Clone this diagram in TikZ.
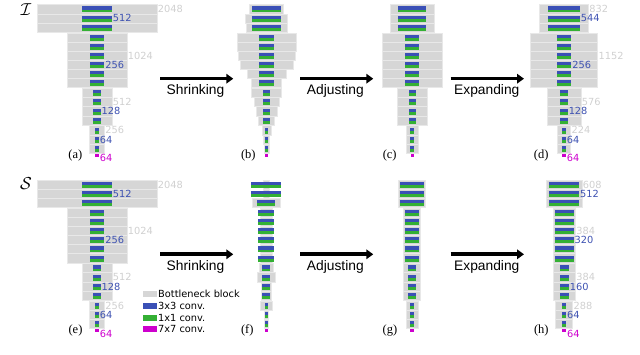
\documentclass[tikz,border=0pt]{standalone}
\usepackage{fontspec}
\setmainfont{Liberation Serif}
\newfontfamily\dvs{DejaVu Sans}
\newfontfamily\lsans{Liberation Sans}
\usetikzlibrary{arrows.meta}
\definecolor{blkgray}{RGB}{214,214,214}
\definecolor{rowsep}{RGB}{232,232,232}
\definecolor{cblue}{RGB}{58,80,182}
\definecolor{cgreen}{RGB}{52,176,52}
\definecolor{cmag}{RGB}{205,0,205}
\definecolor{labgray}{RGB}{208,208,208}
\definecolor{labblue}{RGB}{62,82,178}
\newcommand\SC{0.0585}
\newcommand\RH{9.15}
\newcommand\SG{0.7}
\newcommand\rowtop[3]{\pgfmathsetmacro#1{#2+#3*\RH+\SG*((#3>2)+(#3>8)+(#3>12))}}
\newcommand\blk[4]{%
  \filldraw[fill=blkgray,draw=rowsep,line width=0.6pt] ({#1-#3*\SC/2},{#2}) rectangle ({#1+#3*\SC/2},{#2+\RH});
  \fill[cblue] ({#1-#4*\SC/2},{#2+1.8}) rectangle ({#1+#4*\SC/2},{#2+4.9});
  \fill[cgreen] ({#1-#4*\SC/2},{#2+4.9}) rectangle ({#1+#4*\SC/2},{#2+7.8});
}
\newcommand\panel[4]{%
  \foreach \g/\b [count=\i from 0] in {#3}{%
    \rowtop\yt{#2}{\i}%
    \blk{#1}{\yt}{\g}{\b}%
  }%
  \pgfmathsetmacro\ym{#2+16*\RH+3*\SG+0.4}%
  \fill[cmag] ({#1-#4*\SC/2},\ym) rectangle ({#1+#4*\SC/2},{\ym+3.2});
}
\newcommand\lab[7]{%
  \rowtop\yl{#3}{#4}%
  \node[#7] (#1) at ({#2+#5*\SC/2+0.8},{\yl+\RH/2}) {#6};
}
\newcommand\maglab[3]{%
  \pgfmathsetmacro\yml{#3+16*\RH+3*\SG+0.4+4.7}%
  \node[mlab] (#1) at ({#2+64*\SC/2+0.8},\yml) {64};
}
\tikzset{
  glab/.style={anchor=west,inner sep=0pt,text=labgray,font=\dvs\fontsize{9.8}{10}\selectfont},
  blab/.style={anchor=west,inner sep=0pt,text=labblue,font=\dvs\fontsize{9.8}{10}\selectfont},
  mlab/.style={anchor=west,inner sep=0pt,text=cmag,font=\dvs\fontsize{9.8}{10}\selectfont},
  plab/.style={inner sep=0pt,font=\fontsize{12.5}{14}\selectfont},
  optext/.style={anchor=base,inner sep=0pt,font=\lsans\fontsize{13.8}{16}\selectfont},
  bigarrow/.style={line width=3.6pt,-{Triangle[width=9.5pt,length=7pt]}},
  legtext/.style={anchor=west,inner sep=0pt,font=\dvs\fontsize{9.8}{10}\selectfont},
}
\begin{document}
\begin{tikzpicture}[x=1pt,y=-1pt]
\useasboundingbox (0,0) rectangle (640,355);
% ---- top row ----
\node (calI) at (26,10) {\fontsize{17}{20}\selectfont$\mathcal{I}$};
\panel{97}{4.7}{2048/512,2048/512,2048/512,1024/256,1024/256,1024/256,1024/256,1024/256,1024/256,512/128,512/128,512/128,512/128,256/64,256/64,256/64}{64}
\panel{266.5}{4.7}{586/485,718/485,696/490,1008/245,1008/245,980/245,900/250,672/250,513/250,508/131,432/131,359/131,268/131,159/51,103/51,80/51}{52}
\panel{412.2}{4.7}{740/484,740/484,740/484,1014/245,1014/245,1014/245,1014/245,1014/245,1014/245,513/125,513/125,513/125,513/125,217/63,217/63,217/63}{55}
\panel{564}{4.7}{832/544,832/544,832/544,1152/256,1152/256,1152/256,1152/256,1152/256,1152/256,576/128,576/128,576/128,576/128,224/64,224/64,224/64}{64}
% labels (a)
\lab{a1}{97}{4.7}{0}{2048}{2048}{glab}
\lab{a2}{97}{4.7}{1}{512}{512}{blab}
\lab{a3}{97}{4.7}{5}{1024}{1024}{glab}
\lab{a4}{97}{4.7}{6}{256}{256}{blab}
\lab{a5}{97}{4.7}{10}{512}{512}{glab}
\lab{a6}{97}{4.7}{11}{128}{128}{blab}
\lab{a7}{97}{4.7}{13}{256}{256}{glab}
\lab{a8}{97}{4.7}{14}{64}{64}{blab}
\maglab{a9}{97}{4.7}
% labels (d)
\lab{d1}{564}{4.7}{0}{832}{832}{glab}
\lab{d2}{564}{4.7}{1}{544}{544}{blab}
\lab{d3}{564}{4.7}{5}{1152}{1152}{glab}
\lab{d4}{564}{4.7}{6}{256}{256}{blab}
\lab{d5}{564}{4.7}{10}{576}{576}{glab}
\lab{d6}{564}{4.7}{11}{128}{128}{blab}
\lab{d7}{564}{4.7}{13}{224}{224}{glab}
\lab{d8}{564}{4.7}{14}{64}{64}{blab}
\maglab{d9}{564}{4.7}
% panel captions
\node[plab] (pa) at (75.4,155.7) {(a)};
\node[plab] (pb) at (248.3,155.7) {(b)};
\node[plab] (pc) at (389.7,155.7) {(c)};
\node[plab] (pd) at (541.2,155.7) {(d)};
% arrows top
\coordinate (t1s) at (160,78.7); \coordinate (t1e) at (233.3,78.7);
\coordinate (t2s) at (300,78.7); \coordinate (t2e) at (373.3,78.7);
\coordinate (t3s) at (450.7,78.7); \coordinate (t3e) at (524,78.7);
\draw[bigarrow] (t1s) -- (t1e);
\draw[bigarrow] (t2s) -- (t2e);
\draw[bigarrow] (t3s) -- (t3e);
\node[optext] (tt1) at (195.5,95) {Shrinking};
\node[optext] (tt2) at (335.3,95) {Adjusting};
\node[optext] (tt3) at (486.8,95) {Expanding};
% ---- bottom row ----
\node (calS) at (26,184) {\fontsize{17}{20}\selectfont$\mathcal{S}$};
\panel{97}{179.9}{2048/512,2048/512,2048/512,1024/256,1024/256,1024/256,1024/256,1024/256,1024/256,512/128,512/128,512/128,512/128,256/64,256/64,256/64}{64}
\panel{266.3}{179.9}{108/513,108/513,467/308,210/268,210/268,210/268,210/268,210/268,210/268,234/131,296/131,177/131,177/131,217/57,80/57,80/57}{52}
\panel{412}{179.9}{467/410,467/410,467/410,296/256,296/256,296/256,296/256,296/256,296/256,296/125,296/125,296/125,296/125,210/63,210/63,210/63}{55}
\panel{564.2}{179.9}{608/512,608/512,608/512,384/320,384/320,384/320,384/320,384/320,384/320,384/160,384/160,384/160,384/160,288/64,288/64,288/64}{64}
% labels (e)
\lab{e1}{97}{179.9}{0}{2048}{2048}{glab}
\lab{e2}{97}{179.9}{1}{512}{512}{blab}
\lab{e3}{97}{179.9}{5}{1024}{1024}{glab}
\lab{e4}{97}{179.9}{6}{256}{256}{blab}
\lab{e5}{97}{179.9}{10}{512}{512}{glab}
\lab{e6}{97}{179.9}{11}{128}{128}{blab}
\lab{e7}{97}{179.9}{13}{256}{256}{glab}
\lab{e8}{97}{179.9}{14}{64}{64}{blab}
\maglab{e9}{97}{179.9}
% labels (h)
\lab{h1}{564.2}{179.9}{0}{608}{608}{glab}
\lab{h2}{564.2}{179.9}{1}{512}{512}{blab}
\lab{h3}{564.2}{179.9}{5}{384}{384}{glab}
\lab{h4}{564.2}{179.9}{6}{320}{320}{blab}
\lab{h5}{564.2}{179.9}{10}{384}{384}{glab}
\lab{h6}{564.2}{179.9}{11}{160}{160}{blab}
\lab{h7}{564.2}{179.9}{13}{288}{288}{glab}
\lab{h8}{564.2}{179.9}{14}{64}{64}{blab}
\maglab{h9}{564.2}{179.9}
\node[plab] (pe) at (75.5,330.7) {(e)};
\node[plab] (pf) at (247.3,330.7) {(f)};
\node[plab] (pg) at (390,330.7) {(g)};
\node[plab] (ph) at (541.3,330.7) {(h)};
% arrows bottom
\coordinate (b1s) at (160,254.3); \coordinate (b1e) at (233.3,254.3);
\coordinate (b2s) at (300,254.3); \coordinate (b2e) at (373.3,254.3);
\coordinate (b3s) at (450.7,254.3); \coordinate (b3e) at (524,254.3);
\draw[bigarrow] (b1s) -- (b1e);
\draw[bigarrow] (b2s) -- (b2e);
\draw[bigarrow] (b3s) -- (b3e);
\node[optext] (bt1) at (195.5,270.6) {Shrinking};
\node[optext] (bt2) at (335.3,270.6) {Adjusting};
\node[optext] (bt3) at (486.8,270.6) {Expanding};
% legend
\fill[blkgray] (143.3,291.3) rectangle (156.7,297.3);
\fill[cblue] (143.3,303) rectangle (156.7,309);
\fill[cgreen] (143.3,314.7) rectangle (156.7,320.7);
\fill[cmag] (143.3,326.4) rectangle (156.7,332.4);
\node[legtext] (lg1) at (158,294.3) {Bottleneck block};
\node[legtext] (lg2) at (158,306) {3x3 conv.};
\node[legtext] (lg3) at (158,317.7) {1x1 conv.};
\node[legtext] (lg4) at (158,329.4) {7x7 conv.};
\end{tikzpicture}
\end{document}
